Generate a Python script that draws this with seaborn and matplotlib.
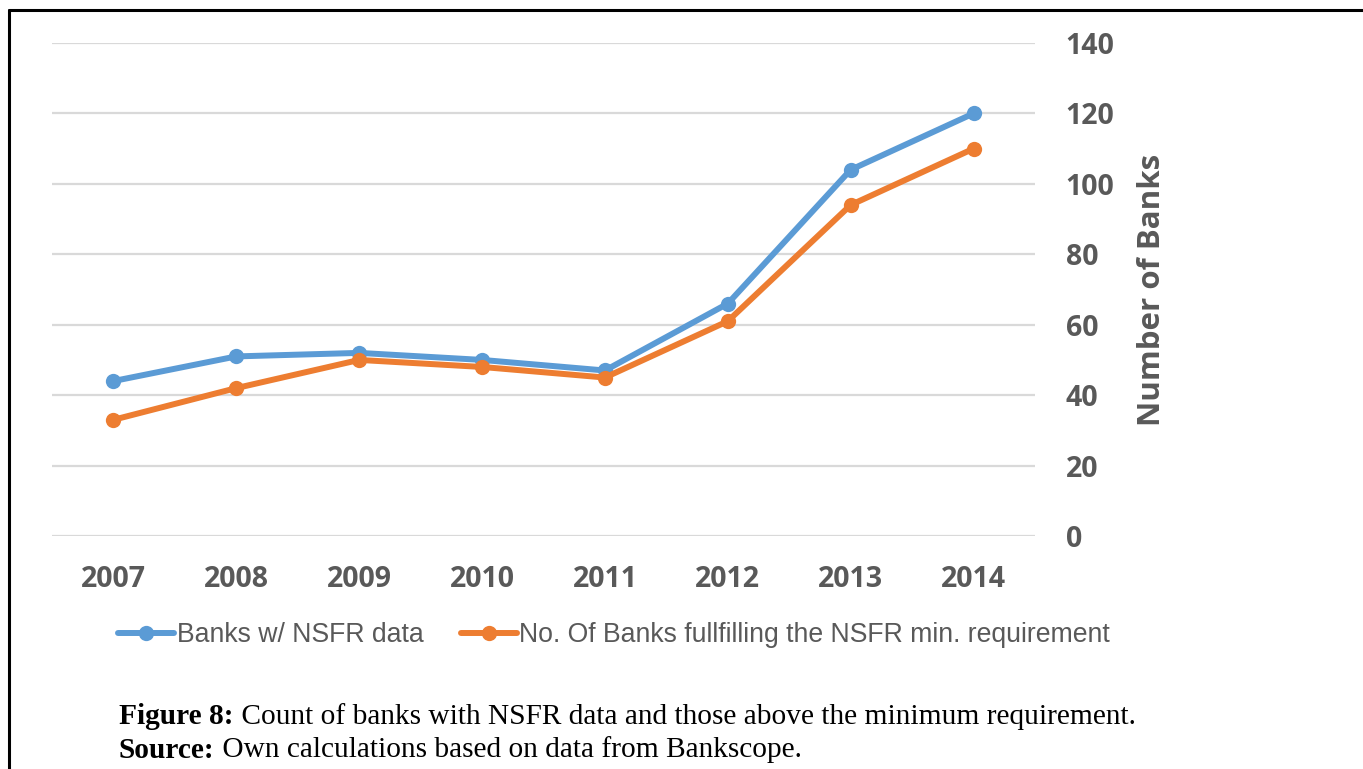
import matplotlib
matplotlib.use("Agg")
import matplotlib.pyplot as plt
import seaborn as sns
import pandas as pd
from matplotlib.lines import Line2D

years = ["2007", "2008", "2009", "2010", "2011", "2012", "2013", "2014"]
banks_with_data = [44, 51, 52, 50, 47, 66, 104, 120]
banks_fulfilling = [33, 42, 50, 48, 45, 61, 94, 110]
series_names = ["Banks w/ NSFR data",
                "No. Of Banks fullfilling the NSFR min. requirement"]
y_ticks = [0, 20, 40, 60, 80, 100, 120, 140]
colors = ["#5B9BD5", "#ED7D31"]

df = pd.DataFrame({
    "pos": list(range(len(years))) * 2,
    "count": banks_with_data + banks_fulfilling,
    "series": [series_names[0]] * len(years) + [series_names[1]] * len(years),
})

sns.set_theme(style="white")
W, H = 1363, 769
fig = plt.figure(figsize=(W / 100, H / 100), dpi=100)
ax = fig.add_axes([52 / W, 1 - 536 / H, (1035 - 52) / W, (536 - 43) / H])

sns.lineplot(data=df, x="pos", y="count", hue="series", palette=colors,
             marker="o", markersize=11, markeredgewidth=0, linewidth=4.3,
             ax=ax, legend=False)

ax.set_xlim(-0.5, len(years) - 0.5)
ax.set_ylim(0, 140)
ax.set_xticks(range(len(years)))
ax.set_xticklabels(years)
ax.set_yticks(y_ticks)
ax.yaxis.tick_right()
ax.yaxis.set_label_position("right")
for s in ax.spines.values():
    s.set_visible(False)
ax.grid(axis="y", color="#D9D9D9", linewidth=1.6)
ax.grid(axis="x", visible=False)
ax.set_axisbelow(True)
ax.tick_params(axis="both", length=0, colors="#595959")
ax.tick_params(axis="x", pad=21)
ax.tick_params(axis="y", pad=22)
for lbl in ax.get_xticklabels() + ax.get_yticklabels():
    lbl.set_fontfamily("Open Sans")
    lbl.set_fontweight("bold")
    lbl.set_fontsize(20.5)
    lbl.set_color("#595959")
for lbl in ax.get_yticklabels():
    lbl.set_horizontalalignment("left")
ax.set_xlabel("")
ax.set_ylabel("Number of Banks", fontfamily="Open Sans", fontweight="bold",
              fontsize=22.5, color="#595959", labelpad=16)

handles = [Line2D([0], [0], color=c, linewidth=4.3, marker="o", markersize=11,
                  markeredgewidth=0) for c in colors]
fig.legend(handles, series_names, loc="center left",
           bbox_to_anchor=(118 / W, 1 - 635 / H), ncol=2, frameon=False,
           handlelength=2.1, handletextpad=0.1, columnspacing=1.4,
           borderpad=0, borderaxespad=0,
           prop={"family": "Liberation Sans", "size": 19.2},
           labelcolor="#595959")

# caption lines: bold lead-in followed by regular text
renderer = fig.canvas.get_renderer()
caption = [("Figure 8:", " Count of banks with NSFR data and those above the minimum requirement.", 717),
           ("Source:", " Own calculations based on data from Bankscope.", 750)]
for bold, rest, ypix in caption:
    t = fig.text(119 / W, 1 - ypix / H, bold, fontfamily="Liberation Serif",
                 fontweight="bold", fontsize=21.2, color="black", va="center")
    bb = t.get_window_extent(renderer=renderer)
    fig.text(bb.x1 / W, 1 - ypix / H, rest, fontfamily="Liberation Serif",
             fontsize=21.2, color="black", va="center")

# page frame edges
fig.add_artist(Line2D([9 / W, 1], [1 - 10 / H, 1 - 10 / H], color="black",
                      linewidth=2.2, transform=fig.transFigure))
fig.add_artist(Line2D([9 / W, 9 / W], [0, 1 - 10 / H], color="black",
                      linewidth=2.2, transform=fig.transFigure))

fig.savefig("out.png", dpi=100)
